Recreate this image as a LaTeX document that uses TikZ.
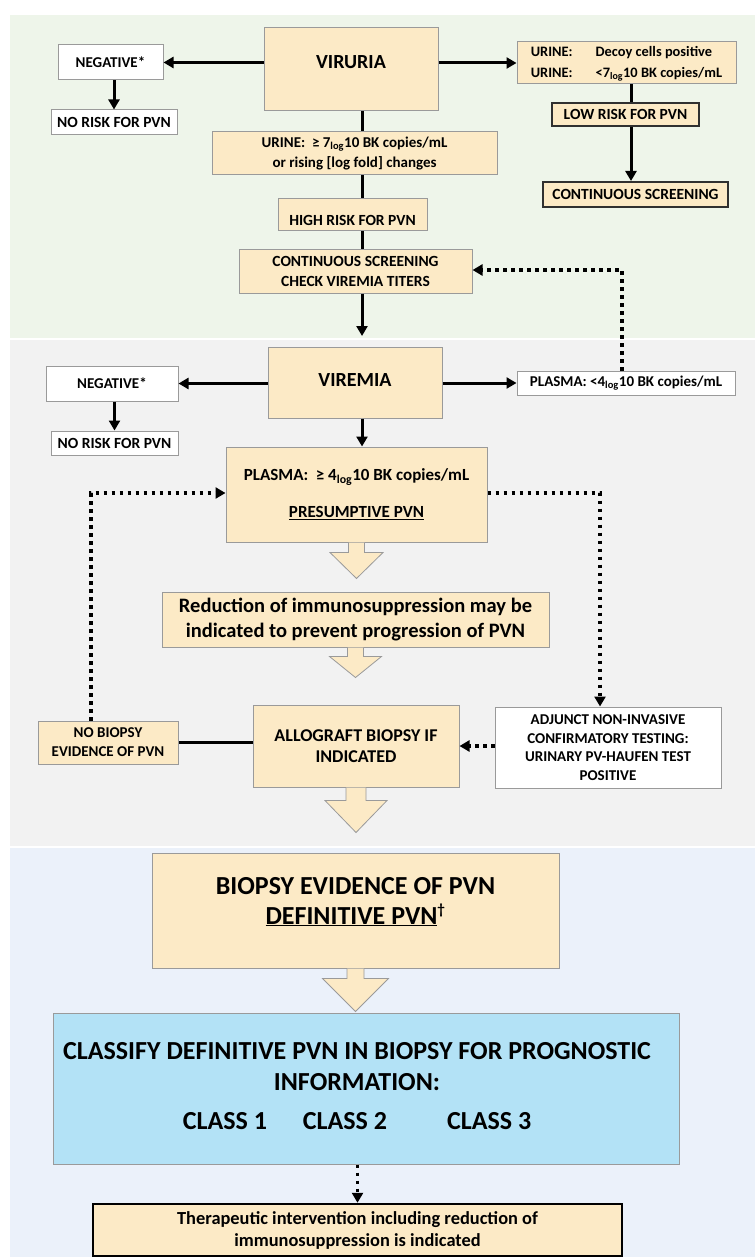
\documentclass[tikz,border=0pt]{standalone}
\usepackage{fontspec}
\setmainfont{Carlito}
\usetikzlibrary{arrows.meta,calc}
\definecolor{cream}{HTML}{FCEAC6}
\definecolor{skyfill}{HTML}{B3E2F6}
\definecolor{bggreen}{HTML}{EEF5EA}
\definecolor{bggray}{HTML}{F2F2F2}
\definecolor{bgblue}{HTML}{EBF1FA}
\definecolor{boxgray}{HTML}{9A9A9A}
\definecolor{boxdark}{HTML}{303030}
\newcommand\fs[2]{\fontsize{#1pt}{#2pt}\selectfont\bfseries}
\newcommand\liftby[2]{\raisebox{#1}[\height][\depth]{#2}}
\newcommand\blockarr[5]{%
  \path (#1.south) coordinate (ba-s);
  \filldraw[blockarrow] ($(ba-s)+(-#4,0)$) -- ($(ba-s)+(-#4,#2-#3)$) -- ($(ba-s)+(-#5,#2-#3)$)
    -- ($(ba-s)+(0,#2)$) -- ($(ba-s)+(#5,#2-#3)$) -- ($(ba-s)+(#4,#2-#3)$) -- ($(ba-s)+(#4,0)$);
}
\begin{document}
\begin{tikzpicture}[x=1pt,y=-1pt,
  box/.style={draw=boxgray, line width=1pt, inner sep=0pt, align=center},
  cbox/.style={box, fill=cream},
  wbox/.style={box, fill=white},
  dbox/.style={box, fill=cream, draw=boxdark, line width=2pt},
  arr/.style={line width=3pt, -{Triangle[length=10pt,width=11pt]}},
  ln/.style={line width=3pt},
  dotarr/.style={line width=3.5pt, dash pattern=on 3.5pt off 4.5pt, -{Triangle[length=10pt,width=11pt]}},
  dotln/.style={line width=3.5pt, dash pattern=on 3.5pt off 4.5pt},
  blockarrow/.style={fill=cream, draw=boxgray, line width=0.8pt, line join=miter}
]
\useasboundingbox (0,0) rectangle (755,1257);
\fill[white] (0,0) rectangle (755,1257);
\fill[bggreen] (10,15) rectangle (755,338);
\fill[bggray] (10,340) rectangle (755,846);
\fill[bgblue] (10,848) rectangle (755,1257);

\coordinate (spine) at (362,0);
\coordinate (rx) at (631,0);
\coordinate (dr) at (622,0);
\coordinate (dl) at (91,0);
\coordinate (dd) at (600,0);

% ---- Viruria section
\node[cbox, minimum width=174, minimum height=83, font=\fs{20}{24}] (viruria) at (351,69.5) {\liftby{7.5pt}{VIRURIA}};
\node[wbox, minimum width=105, minimum height=35, font=\fs{15}{19}] (neg1) at (110.5,62.5) {NEGATIVE*};
\node[wbox, minimum width=126, minimum height=25, font=\fs{15.5}{19}] (norisk1) at (114,122.5) {NO RISK FOR PVN};
\node[cbox, minimum width=219, minimum height=42, font=\fs{14.4}{21}] (decoy) at (626.5,63)
  {\begin{tabular}{@{}l@{\hspace{23pt}}l@{}}URINE: & Decoy cells positive\\ URINE: & <7\textsubscript{log}10 BK copies/mL\end{tabular}};
\node[dbox, minimum width=147, minimum height=23, font=\fs{15.5}{19}] (lowrisk) at (625.5,114.5) {LOW RISK FOR PVN};
\node[dbox, minimum width=185, minimum height=25, font=\fs{15.5}{19}] (screen) at (635.5,194.5) {CONTINUOUS SCREENING};
\node[cbox, minimum width=285, minimum height=43, font=\fs{15}{20}] (urine7) at (354.5,153.5)
  {URINE:\ \ ≥ 7\textsubscript{log}10 BK copies/mL\\or rising [log fold] changes};
\node[cbox, minimum width=149, minimum height=32, font=\fs{15.5}{19}] (highrisk) at (352.5,215) {\liftby{-5pt}{HIGH RISK FOR PVN}};
\node[cbox, minimum width=233, minimum height=43, font=\fs{15.5}{19.5}] (contscreen) at (355.5,271.5)
  {CONTINUOUS SCREENING\\CHECK VIREMIA TITERS};
\coordinate (vend) at (362,336);

% ---- Viremia section
\node[cbox, minimum width=174, minimum height=71, font=\fs{20}{24}] (viremia) at (355,382.5) {\liftby{2pt}{VIREMIA}};
\node[wbox, minimum width=132, minimum height=35, font=\fs{15}{19}] (neg2) at (112,383.5) {NEGATIVE*};
\node[wbox, minimum width=127, minimum height=24, font=\fs{15.5}{19}] (norisk2) at (114.5,443) {NO RISK FOR PVN};
\node[wbox, minimum width=218, minimum height=24, font=\fs{15}{19}] (plasmalow) at (626,383) {PLASMA: <4\textsubscript{log}10 BK copies/mL};
\node[cbox, minimum width=261, minimum height=95, font=\fs{17}{20}] (plasma4) at (356.5,494.5)
  {PLASMA:\ \ ≥ 4\textsubscript{log}10 BK copies/mL\\[17pt]\underline{PRESUMPTIVE PVN}};
\node[cbox, minimum width=387, minimum height=55, font=\fs{20.5}{25}] (reduction) at (355.5,619.5)
  {Reduction of immunosuppression may be\\indicated to prevent progression of PVN};
\node[cbox, minimum width=206, minimum height=82, font=\fs{18}{21}] (allograft) at (356,746)
  {ALLOGRAFT BIOPSY IF\\INDICATED};
\node[cbox, minimum width=140, minimum height=43, font=\fs{15}{19}] (nobiopsy) at (108,742.5)
  {NO BIOPSY\\EVIDENCE OF PVN};
\node[wbox, minimum width=226, minimum height=81, font=\fs{15}{18.7}] (adjunct) at (608,747.5)
  {ADJUNCT NON-INVASIVE\\CONFIRMATORY TESTING:\\URINARY PV-HAUFEN TEST\\POSITIVE};

% ---- Biopsy section
\node[cbox, minimum width=407, minimum height=115, font=\fs{26}{30}] (biopsy) at (355.5,910.5)
  {\liftby{7.5pt}{\begin{tabular}{@{}c@{}}BIOPSY EVIDENCE OF PVN\\[0pt]\underline{DEFINITIVE PVN}\textsuperscript{\fontsize{15}{15}\selectfont †}\end{tabular}}};
\node[box, fill=skyfill, minimum width=626, minimum height=151, font=\fs{26}{31}] (classify) at (366,1088.5)
  {\begin{tabular}{@{}c@{}}CLASSIFY DEFINITIVE PVN IN BIOPSY FOR PROGNOSTIC\\INFORMATION:\\[8pt]
   CLASS 1\hspace{36pt}CLASS 2\hspace{60pt}CLASS 3\end{tabular}\hspace*{18pt}};
\node[dbox, draw=black, line width=2.5pt, minimum width=529, minimum height=52, font=\fs{18.4}{22}] (therapy) at (357.5,1230)
  {Therapeutic intervention including reduction of\\immunosuppression is indicated};

% ---- connectors, top
\draw[arr] (neg1.east -| viruria.west) -- (neg1.east);
\draw[arr] (norisk1.north |- neg1.south) -- (norisk1.north);
\draw[arr] (decoy.west -| viruria.east) -- (decoy.west);
\draw[ln] (decoy.south -| rx) -- (lowrisk.north -| rx);
\draw[arr] (lowrisk.south -| rx) -- (screen.north -| rx);
\draw[ln] (viruria.south -| spine) -- (urine7.north -| spine);
\draw[ln] (urine7.south -| spine) -- (highrisk.north -| spine);
\draw[ln] (highrisk.south -| spine) -- (contscreen.north -| spine);
\draw[arr] (contscreen.south -| spine) -- (vend);
\draw[dotarr] (plasmalow.north -| dr) -- ($(contscreen.east -| dr)+(0,-1.5)$) -- ($(contscreen.east)+(0,-1.5)$);

% ---- connectors, middle
\draw[arr] (neg2.east -| viremia.west) -- (neg2.east);
\draw[arr] (norisk2.north |- neg2.south) -- (norisk2.north);
\draw[arr] (plasmalow.west -| viremia.east) -- (plasmalow.west);
\draw[arr] (viremia.south -| spine) -- (plasma4.north -| spine);
\draw[dotarr] (nobiopsy.north -| dl) -- ($(plasma4.west -| dl)+(0,-1.5)$) -- ($(plasma4.west)+(0,-1.5)$);
\draw[dotarr] ($(plasma4.east)+(0,-1.5)$) -- ($(plasma4.east -| dd)+(0,-1.5)$) -- (adjunct.north -| dd);
\draw[ln] (allograft.west |- nobiopsy.east) -- (nobiopsy.east);
\draw[dotarr] (adjunct.west |- allograft.east) -- (allograft.east);

% ---- block arrows
\blockarr{plasma4}{36}{26}{8}{26.5}
\blockarr{reduction}{30}{21}{8}{26}
\blockarr{allograft}{45}{32}{10}{31}
\blockarr{biopsy}{43}{33}{8.5}{33}

% ---- bottom
\draw[dotarr] (classify.south -| therapy.north) -- (therapy.north);
\end{tikzpicture}
\end{document}
